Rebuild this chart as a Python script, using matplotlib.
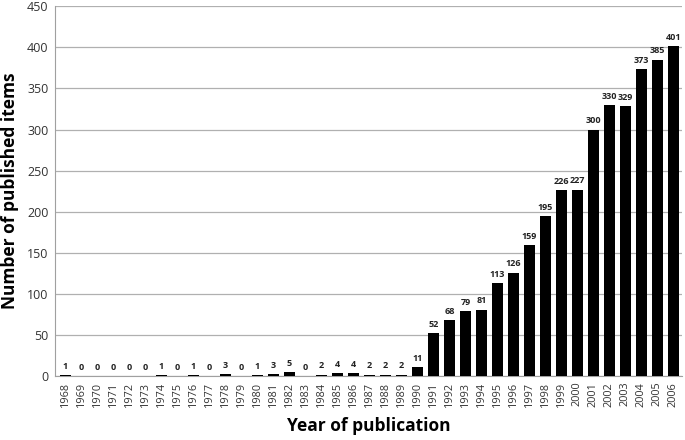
import matplotlib
matplotlib.use("Agg")
import matplotlib.pyplot as plt
import numpy as np

plt.rcParams['font.family'] = ['Open Sans', 'DejaVu Sans']

years = list(range(1968, 2007))
counts = [1, 0, 0, 0, 0, 0, 1, 0, 1, 0, 3, 0, 1, 3, 5, 0, 2, 4, 4, 2, 2, 2, 11,
          52, 68, 79, 81, 113, 126, 159, 195, 226, 227, 300, 330, 329, 373, 385, 401]

fig = plt.figure(figsize=(6.85, 4.4), dpi=100)
ax = fig.add_axes([0.081, 0.145, 0.915, 0.841])

x = np.arange(len(years))
bars = ax.bar(x, counts, width=0.68, color="black", zorder=3)

for xi, v in zip(x, counts):
    ax.text(xi, v + 5, str(v), ha="center", va="bottom", fontsize=6.5,
            fontweight="bold", color="#222222")

ax.set_xlim(-0.6, len(years) - 0.45)
ax.set_ylim(0, 450)
ax.set_yticks(range(0, 451, 50))
ax.yaxis.grid(True, color="#b0b0b0", linewidth=0.9, zorder=0)
ax.set_xticks(x, [str(y) for y in years], rotation=90)
ax.tick_params(axis="x", length=0, labelsize=7.8, colors="#333333", pad=4)
ax.tick_params(axis="y", length=0, labelsize=9, colors="#333333", pad=5)

for side in ["top", "right"]:
    ax.spines[side].set_visible(False)
for side in ["left", "bottom"]:
    ax.spines[side].set_color("#a0a0a0")

ax.set_xlabel("Year of publication", fontsize=12.5, fontweight="bold", labelpad=7)
ax.set_ylabel("Number of published items", fontsize=12.5, fontweight="bold", labelpad=6)

fig.savefig("out.png", dpi=100)
